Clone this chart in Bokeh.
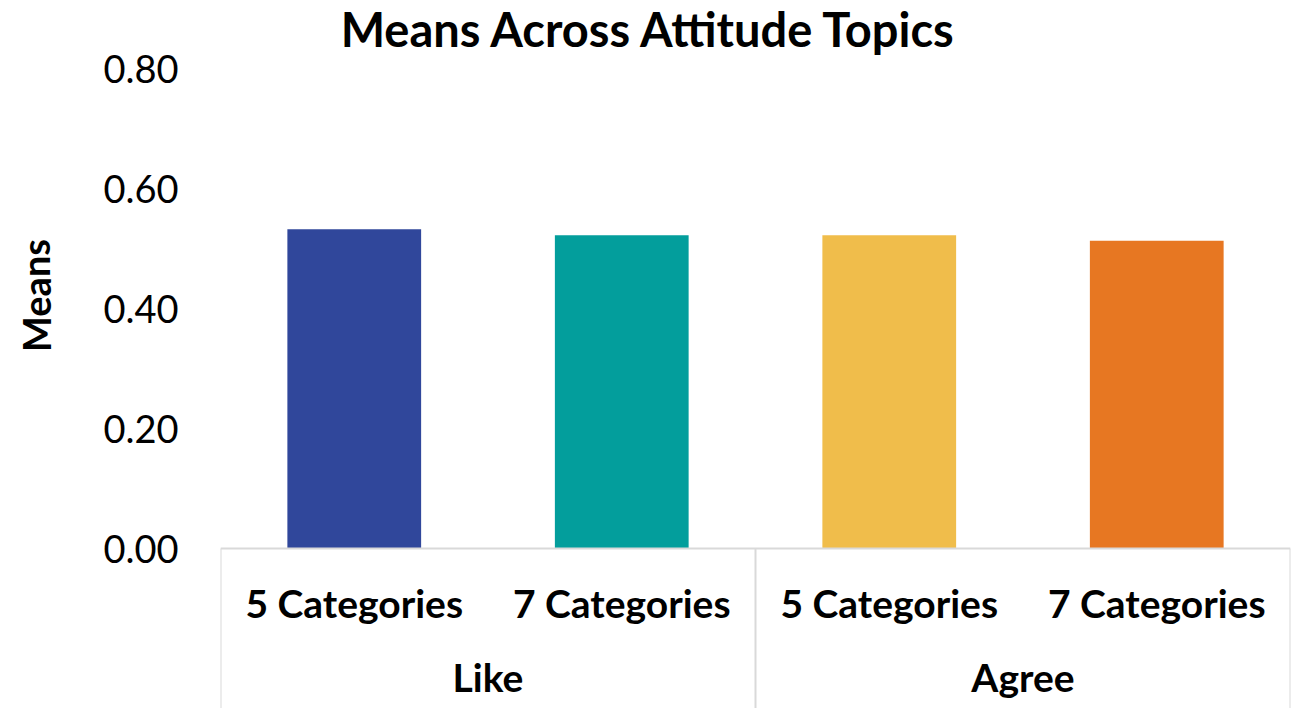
from bokeh.plotting import figure
from bokeh.layouts import row
from bokeh.models import FactorRange, FixedTicker, Range1d, Label, NumeralTickFormatter
from bokeh.embed import file_html
from bokeh.resources import INLINE

# ---- data ----
topics = ["Like", "Agree"]
scales = ["5 Categories", "7 Categories"]
means = [0.532, 0.522, 0.522, 0.513]
colors = ["#30479b", "#039e9c", "#f0bd4b", "#e77722"]
y_ticks = [0.0, 0.2, 0.4, 0.6, 0.8]
title_text = "Means Across Attitude Topics"
y_label = "Means"

factors = [(t, s) for t in topics for s in scales]

FONT = "Lato"
W, H = 1294, 708
LW = 70                      # width of the y-title strip
frame_left = 220
top_px, zero_px = 68, 548
y_max_tick = 0.8
px_per_unit = (zero_px - top_px) / y_max_tick
y_max = y_max_tick + top_px / px_per_unit
y_min = -(H - zero_px) / px_per_unit

# ---- left strip holding the vertical axis title ----
lp = figure(width=LW, height=H, output_backend="svg", toolbar_location=None,
            x_range=Range1d(0, 1), y_range=Range1d(0, 1),
            x_axis_location=None, y_axis_location=None,
            min_border=0)
lp.outline_line_color = None
lp.grid.visible = False
lp.add_layout(Label(x=35, y=H - 295, x_units="screen", y_units="screen",
                    text=y_label, text_font=FONT, text_font_style="bold",
                    text_font_size="38px", text_align="center", text_baseline="middle",
                    angle=1.5708, text_color="black"))

# ---- main chart ----
p = figure(width=W - LW, height=H, output_backend="svg", toolbar_location=None,
           x_range=FactorRange(*factors, group_padding=0, factor_padding=0, range_padding=0),
           y_range=Range1d(y_min, y_max),
           min_border_left=frame_left - LW, min_border_right=4, min_border_top=0, min_border_bottom=0)
p.outline_line_color = None
p.grid.visible = False

p.vbar(x=factors, top=means, width=0.5, fill_color=colors, line_color=None)

# category frame lines below the baseline
n_sub = len(scales)
bounds = [i * n_sub for i in range(len(topics) + 1)]
p.segment(x0=bounds, x1=bounds, y0=[0] * len(bounds), y1=[y_min] * len(bounds),
          line_color="#d9d9d9", line_width=2)

xa = p.xaxis[0]
xa.fixed_location = 0
xa.axis_line_color = "#d9d9d9"
xa.axis_line_width = 2
xa.major_tick_line_color = None
xa.minor_tick_line_color = None
xa.separator_line_color = None
xa.major_label_text_font = FONT
xa.major_label_text_font_style = "bold"
xa.major_label_text_font_size = "39px"
xa.major_label_text_color = "black"
xa.major_label_standoff = 25
xa.group_text_font = FONT
xa.group_text_font_style = "bold"
xa.group_text_font_size = "39px"
xa.group_text_color = "black"
xa.group_text_baseline = "hanging"

ya = p.yaxis[0]
ya.ticker = FixedTicker(ticks=y_ticks)
ya.formatter = NumeralTickFormatter(format="0.00")
ya.axis_line_color = None
ya.major_tick_line_color = None
ya.minor_tick_line_color = None
ya.major_label_text_font = FONT
ya.major_label_text_font_size = "38px"
ya.major_label_text_color = "black"
ya.major_label_standoff = 36

p.add_layout(Label(x=649 - frame_left, y=H - 28, x_units="screen", y_units="screen",
                   text=title_text, text_font=FONT, text_font_style="bold",
                   text_font_size="47px", text_align="center", text_baseline="middle",
                   text_color="black"))

layout = row(lp, p, spacing=0)
open("out.html", "w").write(file_html(layout, INLINE))
